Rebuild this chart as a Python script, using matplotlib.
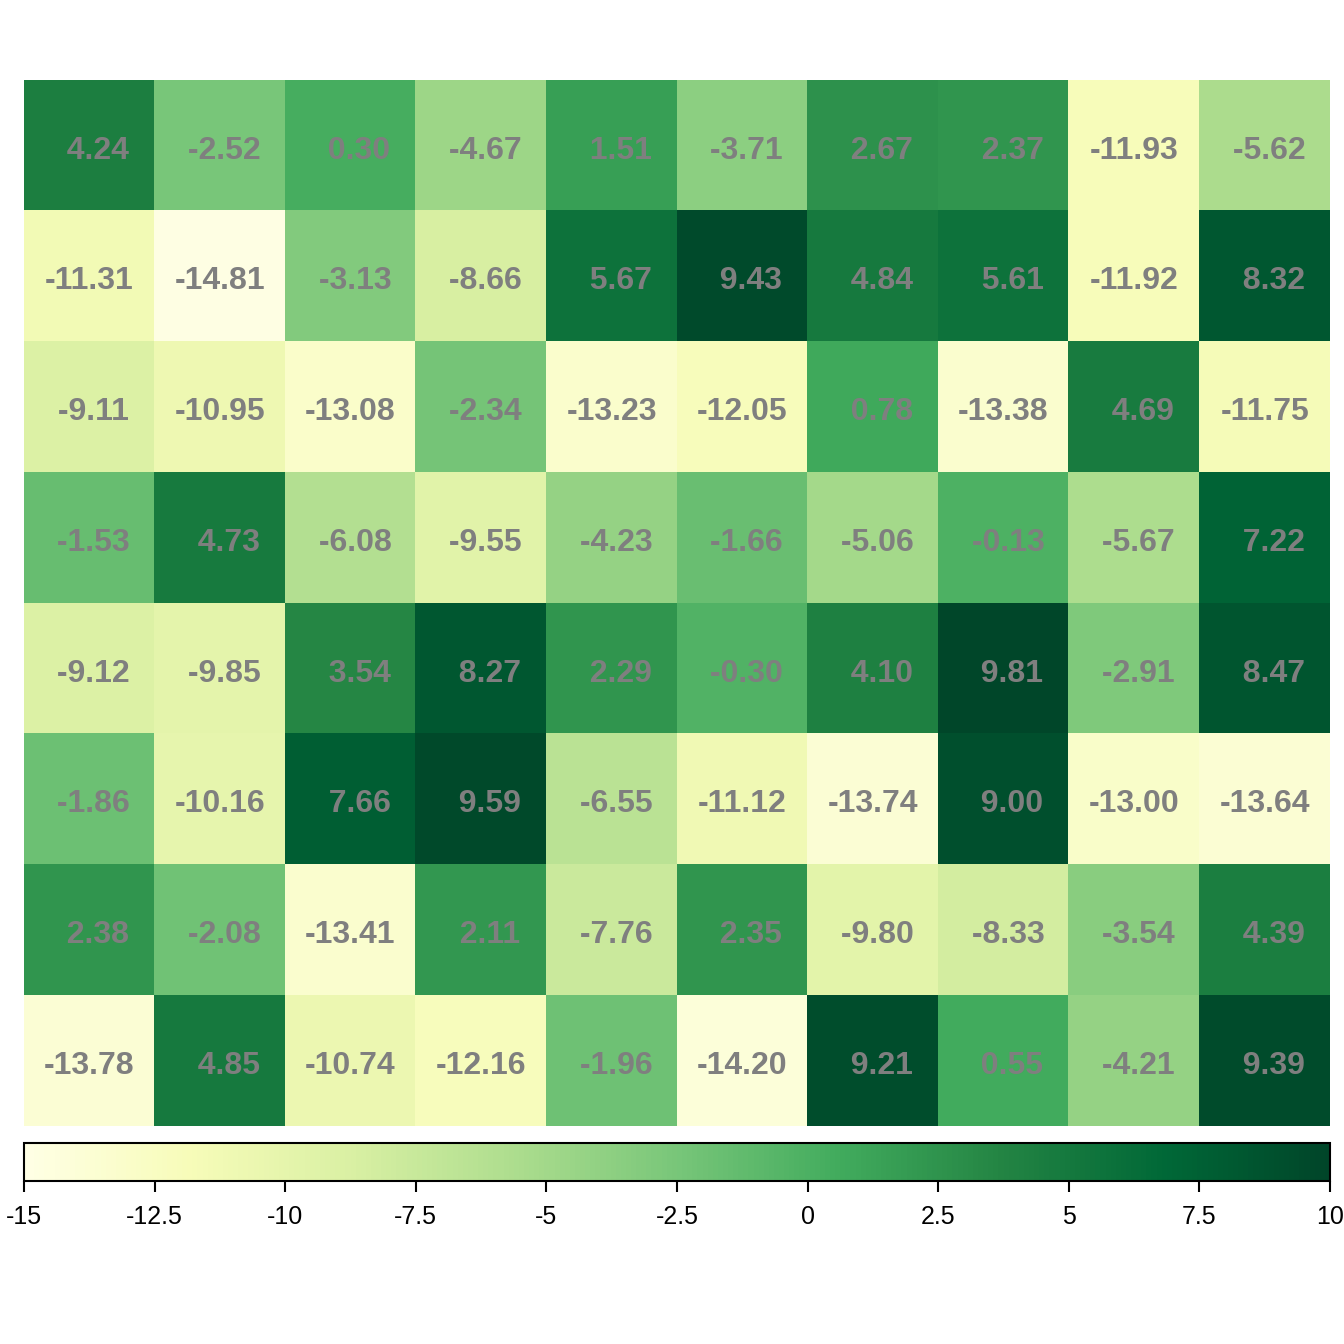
import numpy as np
import matplotlib
matplotlib.use("Agg")
import matplotlib.pyplot as plt

plt.rcParams['font.family'] = ['Liberation Sans', 'DejaVu Sans']

rows = [
    [4.24, -2.52, 0.30, -4.67, 1.51, -3.71, 2.67, 2.37, -11.93, -5.62],
    [-11.31, -14.81, -3.13, -8.66, 5.67, 9.43, 4.84, 5.61, -11.92, 8.32],
    [-9.11, -10.95, -13.08, -2.34, -13.23, -12.05, 0.78, -13.38, 4.69, -11.75],
    [-1.53, 4.73, -6.08, -9.55, -4.23, -1.66, -5.06, -0.13, -5.67, 7.22],
    [-9.12, -9.85, 3.54, 8.27, 2.29, -0.30, 4.10, 9.81, -2.91, 8.47],
    [-1.86, -10.16, 7.66, 9.59, -6.55, -11.12, -13.74, 9.00, -13.00, -13.64],
    [2.38, -2.08, -13.41, 2.11, -7.76, 2.35, -9.80, -8.33, -3.54, 4.39],
    [-13.78, 4.85, -10.74, -12.16, -1.96, -14.20, 9.21, 0.55, -4.21, 9.39],
]
vmin, vmax = -15, 10
cbar_ticks = [-15, -12.5, -10, -7.5, -5, -2.5, 0, 2.5, 5, 7.5, 10]
cbar_labels = ["-15", "-12.5", "-10", "-7.5", "-5", "-2.5", "0", "2.5", "5", "7.5", "10"]

data = np.array(rows)
nr, nc = data.shape

fig = plt.figure(figsize=(13.44, 13.44), dpi=100)
W = H = 1344
ax = fig.add_axes([24 / W, 1 - 1126 / H, (1330 - 24) / W, (1126 - 80) / H])
im = ax.imshow(data, cmap='YlGn', vmin=vmin, vmax=vmax, aspect='auto',
               interpolation='nearest')
for i in range(nr):
    for j in range(nc):
        ax.text(j, i + 0.04, f"{data[i, j]:6.2f}", ha='center', va='center',
                fontsize=23, fontweight='bold', color='#7f7f7f')
ax.axis('off')

cax = fig.add_axes([24 / W, 1 - 1181 / H, (1330 - 24) / W, (1181 - 1143) / H])
cb = fig.colorbar(im, cax=cax, orientation='horizontal')
cb.set_ticks(cbar_ticks)
cb.set_ticklabels(cbar_labels)
cb.outline.set_linewidth(1.5)
cb.outline.set_edgecolor('black')
cax.tick_params(length=8, width=1.5, labelsize=18, pad=9, direction='out')

fig.savefig("out.png", dpi=100)
